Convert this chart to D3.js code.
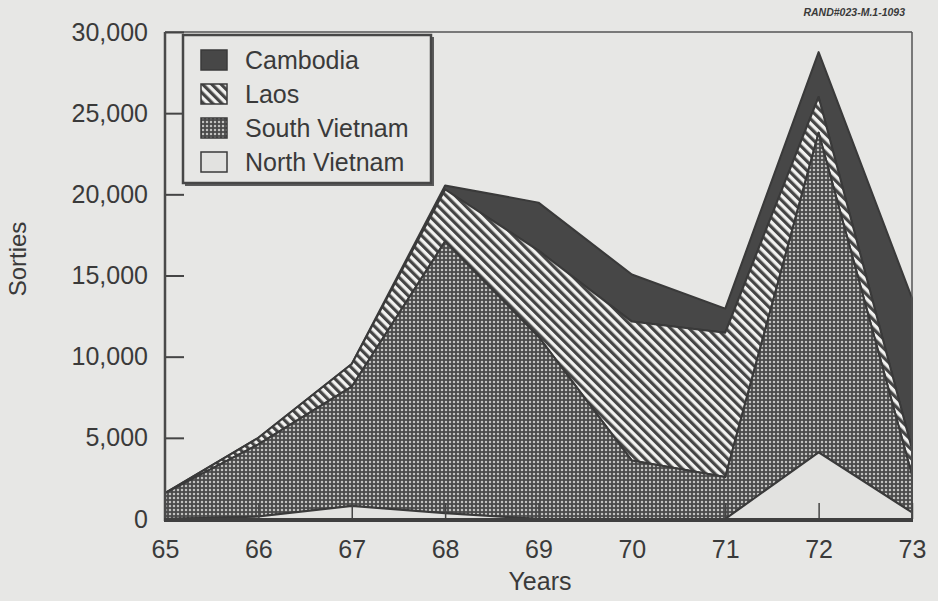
<!DOCTYPE html>
<html>
<head>
<meta charset="utf-8">
<script src="https://cdn.jsdelivr.net/npm/d3@7"></script>
<style>
  html, body { margin: 0; padding: 0; background: #e7e7e5; }
  svg { display: block; }
  text { font-family: "Liberation Sans", Arial, Helvetica, sans-serif; fill: #3a3a3a; }
</style>
</head>
<body>
<svg id="chart" width="938" height="601"></svg>
<script>
// ---- data (sorties per year, stacked bottom to top) ----
const years = [65, 66, 67, 68, 69, 70, 71, 72, 73];
const northVietnam = [0, 150, 800, 350, 0, 0, 0, 4100, 400];
const southVietnam = [1600, 4450, 7350, 16750, 11230, 3600, 2590, 19700, 2300];
const laos = [0, 400, 1400, 3200, 5300, 8560, 8890, 2200, 1600];
const cambodia = [0, 0, 0, 250, 2960, 2900, 1480, 2760, 9300];
const seriesNames = ["North Vietnam", "South Vietnam", "Laos", "Cambodia"];
const legendOrder = ["Cambodia", "Laos", "South Vietnam", "North Vietnam"];
const yTicks = [0, 5000, 10000, 15000, 20000, 25000, 30000];
const xTicks = [65, 66, 67, 68, 69, 70, 71, 72, 73];

const rows = years.map((y, i) => ({
  year: y,
  "North Vietnam": northVietnam[i],
  "South Vietnam": southVietnam[i],
  "Laos": laos[i],
  "Cambodia": cambodia[i]
}));

const svg = d3.select("#chart");
const bg = "#e7e7e5";
const dark = "#454545";
const fontFam = '"Liberation Sans", Arial, sans-serif';

const x = d3.scaleLinear().domain([65, 73]).range([165, 912]);
const y = d3.scaleLinear().domain([0, 30000]).range([519, 32]);

// ---- patterns ----
const defs = svg.append("defs");
const dots = defs.append("pattern").attr("id", "dots")
  .attr("patternUnits", "userSpaceOnUse").attr("width", 4).attr("height", 4);
dots.append("rect").attr("width", 4).attr("height", 4).attr("fill", "#4a4a4a");
dots.append("circle").attr("cx", 2).attr("cy", 2).attr("r", 1.25).attr("fill", "#c2c2c0");

const stripes = defs.append("pattern").attr("id", "stripes")
  .attr("patternUnits", "userSpaceOnUse").attr("width", 6.5).attr("height", 6.5)
  .attr("patternTransform", "rotate(-45)");
stripes.append("rect").attr("width", 6.5).attr("height", 6.5).attr("fill", "#f2f2f0");
stripes.append("rect").attr("width", 3.2).attr("height", 6.5).attr("fill", "#454545");

const fills = {
  "North Vietnam": "#e2e2e0",
  "South Vietnam": "url(#dots)",
  "Laos": "url(#stripes)",
  "Cambodia": "#474747"
};

// ---- stacked areas ----
const stack = d3.stack().keys(seriesNames);
const layers = stack(rows);
const area = d3.area()
  .x(d => x(d.data.year))
  .y0(d => y(d[0]))
  .y1(d => y(d[1]));

svg.append("g").selectAll("path").data(layers.slice().reverse()).join("path")
  .attr("d", area)
  .attr("fill", d => fills[d.key])
  .attr("stroke", "#3a3a3a")
  .attr("stroke-width", 2)
  .attr("stroke-linejoin", "round");

// ---- frame ----
svg.append("line").attr("x1", x(65)).attr("x2", x(73)).attr("y1", y(30000)).attr("y2", y(30000))
  .attr("stroke", "#555").attr("stroke-width", 1.5);
svg.append("line").attr("x1", x(73)).attr("x2", x(73)).attr("y1", y(30000)).attr("y2", y(0))
  .attr("stroke", "#555").attr("stroke-width", 1.5);

// ---- axes ----
const yAxis = d3.axisLeft(y).tickValues(yTicks).tickFormat(d3.format(","))
  .tickSize(-19).tickPadding(17);
const gy = svg.append("g").attr("transform", `translate(${x(65)},0)`).call(yAxis);
gy.select(".domain").remove();
gy.selectAll(".tick line").attr("stroke", dark).attr("stroke-width", 2);
gy.selectAll(".tick text").style("font-size", "25px")
  .style("font-family", fontFam).attr("fill", "#3a3a3a");

const xAxis = d3.axisBottom(x).tickValues(xTicks).tickFormat(d => d)
  .tickSize(-16).tickPadding(21);
const gx = svg.append("g").attr("transform", `translate(0,${y(0)})`).call(xAxis);
gx.select(".domain").remove();
gx.selectAll(".tick line").attr("stroke", dark).attr("stroke-width", 1.5);
gx.selectAll(".tick text").style("font-size", "25px")
  .style("font-family", fontFam).attr("fill", "#3a3a3a");

svg.append("line").attr("x1", x(65)).attr("x2", x(65)).attr("y1", y(30000)).attr("y2", y(0) + 2)
  .attr("stroke", "#4a4a4a").attr("stroke-width", 2.5);
svg.append("line").attr("x1", x(65) - 1).attr("x2", x(73) + 1).attr("y1", y(0) + 1).attr("y2", y(0) + 1)
  .attr("stroke", "#3f3f3f").attr("stroke-width", 4);

// ---- axis titles ----
svg.append("text").attr("x", 540).attr("y", 590).attr("text-anchor", "middle")
  .style("font-size", "25px").text("Years");
svg.append("text").attr("transform", "translate(26,259) rotate(-90)").attr("text-anchor", "middle")
  .style("font-size", "24px").text("Sorties");

// ---- source tag ----
svg.append("text").attr("x", 905).attr("y", 16).attr("text-anchor", "end")
  .style("font-size", "10.5px").style("font-weight", "bold").style("font-style", "italic")
  .attr("fill", "#555").text("RAND#023-M.1-1093");

// ---- legend ----
const lg = svg.append("g");
lg.append("rect").attr("x", 185).attr("y", 37).attr("width", 249).attr("height", 149)
  .attr("fill", "#5a5a5a");
lg.append("rect").attr("x", 183).attr("y", 35).attr("width", 248).attr("height", 148)
  .attr("fill", bg).attr("stroke", "#474747").attr("stroke-width", 2.5);
const ly = d3.scalePoint().domain(legendOrder).range([60, 162]);
const items = lg.selectAll("g.item").data(legendOrder).join("g").attr("class", "item")
  .attr("transform", d => `translate(201,${ly(d)})`);
items.append("rect").attr("x", 0).attr("y", -10).attr("width", 26).attr("height", 20)
  .attr("fill", d => fills[d]).attr("stroke", "#3a3a3a").attr("stroke-width", 1.5);
items.append("text").attr("x", 44).attr("y", 0).attr("dy", "0.35em")
  .style("font-size", "25px").text(d => d);
</script>
</body>
</html>
